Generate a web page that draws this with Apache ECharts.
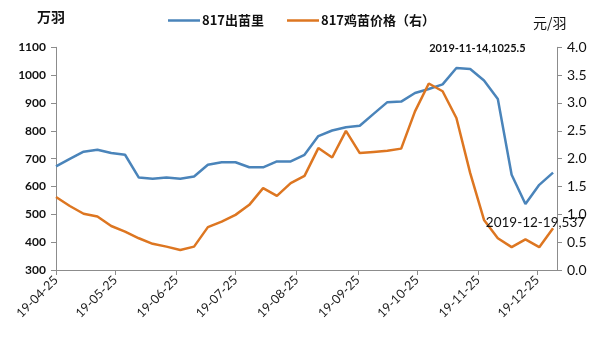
<!DOCTYPE html>
<html>
<head>
<meta charset="utf-8">
<script src="https://cdn.jsdelivr.net/npm/echarts@6/dist/echarts.min.js"></script>
<style>html,body{margin:0;padding:0;background:#fff;}#c{width:597px;height:347px;}</style>
</head>
<body>
<div id="c"></div>
<script>
const dates = ['2019-04-25','2019-05-02','2019-05-09','2019-05-16','2019-05-23','2019-05-30','2019-06-06','2019-06-13','2019-06-20','2019-06-27',
  '2019-07-04','2019-07-11','2019-07-18','2019-07-25','2019-08-01','2019-08-08','2019-08-15','2019-08-22','2019-08-29','2019-09-05',
  '2019-09-12','2019-09-19','2019-09-26','2019-10-03','2019-10-10','2019-10-17','2019-10-24','2019-10-31','2019-11-07','2019-11-14',
  '2019-11-21','2019-11-28','2019-12-05','2019-12-12','2019-12-19','2019-12-26','2020-01-02'];
const supply = [672,699,725,732,720,714,632,628,632,628,
  636,678,687,687,669,669,690,690,714,781,
  801,813,818,861,903,905,936,950,967,1025.5,
  1022,981,914,642,537,606,650];
const price = [1.31,1.15,1.01,0.96,0.79,0.69,0.57,0.47,0.42,0.36,
  0.42,0.77,0.87,0.99,1.17,1.47,1.33,1.56,1.69,2.19,
  2.02,2.50,2.10,2.12,2.14,2.18,2.85,3.35,3.21,2.73,
  1.74,0.90,0.57,0.41,0.55,0.41,0.75];
const tickDates = ['2019-04-25','2019-05-25','2019-06-25','2019-07-25','2019-08-25','2019-09-25','2019-10-25','2019-11-25','2019-12-25'];
const seriesNames = ['817出苗里','817鸡苗价格（右）'];
const leftUnit = '万羽', rightUnit = '元/羽';
const xMin = '2019-04-25', xMax = '2020-01-04';
const ann1Idx = 29, ann2Idx = 34;

const ts = d => new Date(d + 'T00:00:00Z').getTime();
const blue = '#4a84ba', orange = '#dd7621';
const axisColor = '#8c8c8c';
const numFont = 'Lato, "Noto Sans", sans-serif';
const cjkFont = '"Noto Sans CJK SC", sans-serif';
const fmtDate = function(v){const d=new Date(v);const y=String(d.getUTCFullYear()).slice(2);const m=String(d.getUTCMonth()+1).padStart(2,'0');const dd=String(d.getUTCDate()).padStart(2,'0');return y+'-'+m+'-'+dd;};

const chart = echarts.init(document.getElementById('c'), null, {renderer:'canvas'});
chart.setOption({
  animation:false,
  backgroundColor:'#fff',
  grid:{left:56, right:40, top:47.3, bottom:77},
  legend:{
    left:163, top:9, itemWidth:32, itemHeight:2.5, itemGap:23, icon:'rect',
    textStyle:{fontFamily:cjkFont, fontWeight:'bold', fontSize:13, color:'#111', padding:[0,0,0,-3]},
    data:seriesNames
  },
  graphic:[
    {type:'text', left:37, top:10, style:{text:leftUnit, font:'bold 14px "Noto Sans CJK SC"', fill:'#111'}},
    {type:'text', left:533, top:16, style:{text:rightUnit, font:'14px "Noto Sans CJK SC"', fill:'#111'}}
  ],
  xAxis:{
    type:'value', min:ts(xMin), max:ts(xMax), scale:true,
    axisLine:{lineStyle:{color:axisColor, width:1}},
    axisTick:{show:true, length:5, lineStyle:{color:axisColor}, customValues:tickDates.map(ts)},
    splitLine:{show:false},
    axisLabel:{
      rotate:45, fontSize:12.5, color:'#222', fontFamily:numFont, margin:8,
      customValues:tickDates.map(ts), formatter:fmtDate
    }
  },
  yAxis:[
    {type:'value', min:300, max:1100, interval:100, position:'left',
     axisLine:{show:true, lineStyle:{color:axisColor}},
     axisTick:{show:true, length:5, lineStyle:{color:axisColor}},
     splitLine:{show:false},
     axisLabel:{fontSize:12, fontWeight:'bold', color:'#111', fontFamily:numFont, margin:10, formatter:v=>String(v)}},
    {type:'value', min:0, max:4, interval:0.5, position:'right',
     axisLine:{show:true, lineStyle:{color:axisColor}},
     axisTick:{show:true, length:5, lineStyle:{color:axisColor}},
     splitLine:{show:false},
     axisLabel:{fontSize:14, color:'#111', fontFamily:numFont, margin:10, formatter:v=>v.toFixed(1)}}
  ],
  series:[
    {name:seriesNames[0], type:'line', yAxisIndex:0, showSymbol:false, symbol:'none',
     lineStyle:{color:blue, width:2.5}, itemStyle:{color:blue},
     data:dates.map((d,i)=>[ts(d), supply[i]]),
     markPoint:{symbol:'circle', symbolSize:0, silent:true,
       data:[
        {coord:[ts(dates[ann1Idx]), supply[ann1Idx]],
         label:{show:true, position:'inside', offset:[21,-20], formatter:dates[ann1Idx]+','+supply[ann1Idx],
                fontFamily:numFont, fontWeight:'bold', fontSize:11, color:'#111'}},
        {coord:[ts(dates[ann2Idx]), supply[ann2Idx]],
         label:{show:true, position:'inside', offset:[10,19], formatter:dates[ann2Idx]+','+supply[ann2Idx],
                fontFamily:numFont, fontSize:13.5, color:'#111'}}
       ]}
    },
    {name:seriesNames[1], type:'line', yAxisIndex:1, showSymbol:false, symbol:'none',
     lineStyle:{color:orange, width:2.5}, itemStyle:{color:orange},
     data:dates.map((d,i)=>[ts(d), price[i]])}
  ]
});
</script>
</body>
</html>
